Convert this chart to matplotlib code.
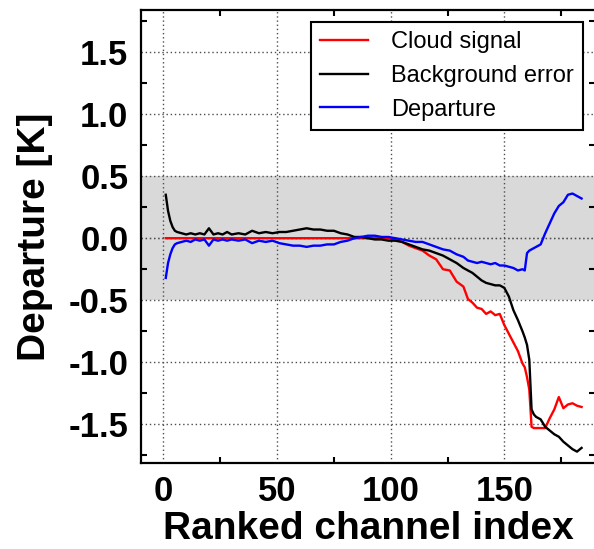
import numpy as np
import matplotlib
matplotlib.use("Agg")
import matplotlib.pyplot as plt
from matplotlib.ticker import MultipleLocator

plt.rcParams['font.family'] = ['Liberation Sans', 'DejaVu Sans']

channel = [1, 2, 3, 4, 5, 6, 8, 10, 12, 14, 16, 18, 20, 22, 24, 26, 28, 30,
           33, 36, 39, 42, 45, 48, 51, 54, 57, 60, 63, 66, 69, 72, 75, 78, 81,
           84, 87, 90, 93, 96, 99, 102, 105, 108, 111, 114, 117, 120, 123, 126,
           129, 132, 134, 136, 138, 140, 142, 144, 146, 148, 150, 152, 154, 156,
           158, 159, 160, 161, 162, 163, 164, 166, 168, 170, 172, 174, 176, 178,
           180, 182, 184]

cloud_signal = [0.0, 0.0, 0.0, 0.0, 0.0, 0.0, 0.0, 0.0, 0.0, 0.0, 0.0, 0.0,
                0.0, 0.0, 0.0, 0.0, 0.0, 0.0, 0.0, 0.0, 0.0, 0.0, 0.0, 0.0,
                0.0, 0.0, 0.0, 0.0, 0.0, 0.0, 0.0, 0.0, 0.0, 0.0, 0.0, 0.0,
                0.0, 0.0, 0.0, 0.0, 0.0, -0.01, -0.03, -0.06, -0.08, -0.10,
                -0.14, -0.17, -0.25, -0.26, -0.35, -0.39, -0.49, -0.52, -0.56,
                -0.57, -0.61, -0.59, -0.62, -0.61, -0.70, -0.77, -0.84, -0.91,
                -1.01, -1.04, -1.12, -1.22, -1.52, -1.53, -1.53, -1.53, -1.53,
                -1.45, -1.38, -1.28, -1.37, -1.34, -1.33, -1.35, -1.36]

background_error = [0.35, 0.22, 0.14, 0.09, 0.06, 0.05, 0.04, 0.03, 0.04, 0.03,
                    0.04, 0.03, 0.08, 0.03, 0.04, 0.03, 0.05, 0.03, 0.04, 0.03,
                    0.06, 0.04, 0.05, 0.04, 0.05, 0.05, 0.06, 0.07, 0.08, 0.07,
                    0.07, 0.06, 0.06, 0.04, 0.03, 0.01, 0.01, 0.0, -0.01, -0.01,
                    -0.02, -0.02, -0.03, -0.05, -0.07, -0.09, -0.10, -0.12, -0.14,
                    -0.17, -0.20, -0.24, -0.26, -0.28, -0.31, -0.34, -0.36, -0.37,
                    -0.38, -0.38, -0.40, -0.47, -0.58, -0.66, -0.75, -0.80, -0.86,
                    -0.98, -1.38, -1.42, -1.44, -1.46, -1.52, -1.55, -1.58, -1.60,
                    -1.64, -1.67, -1.70, -1.72, -1.69]

departure = [-0.32, -0.20, -0.13, -0.08, -0.05, -0.04, -0.03, -0.02, -0.03, -0.01,
             -0.02, -0.01, -0.06, -0.01, -0.02, -0.01, -0.02, -0.01, -0.02, -0.01,
             -0.04, -0.02, -0.03, -0.02, -0.04, -0.05, -0.06, -0.06, -0.07, -0.06,
             -0.06, -0.05, -0.05, -0.03, -0.02, 0.0, 0.01, 0.02, 0.02, 0.01,
             0.01, 0.0, -0.01, -0.02, -0.03, -0.03, -0.05, -0.07, -0.09, -0.10,
             -0.13, -0.15, -0.18, -0.19, -0.20, -0.19, -0.20, -0.21, -0.20, -0.22,
             -0.22, -0.23, -0.24, -0.26, -0.25, -0.26, -0.12, -0.10, -0.09, -0.08,
             -0.07, -0.05, 0.04, 0.12, 0.20, 0.26, 0.29, 0.35, 0.36, 0.34, 0.32]

fig = plt.figure(figsize=(5.94, 5.49), dpi=100)
ax = fig.add_axes([0.237, 0.157, 0.765, 0.825])

ax.grid(True, which='major', linestyle=(0, (1, 2)), color='0.3', linewidth=1.0, zorder=0)
ax.axhspan(-0.5, 0.5, color='#d9d9d9', zorder=1, linewidth=0)
ax.axhline(0, linestyle=(0, (1, 2)), color='0.45', linewidth=1.0, zorder=1.5)

ax.plot(channel, cloud_signal, color='red', lw=1.7, label='Cloud signal', zorder=3)
ax.plot(channel, background_error, color='black', lw=1.7, label='Background error', zorder=3)
ax.plot(channel, departure, color='blue', lw=1.7, label='Departure', zorder=3)

ax.set_xlim(-10, 190)
ax.set_ylim(-1.81, 1.84)
ax.xaxis.set_major_locator(MultipleLocator(50))
ax.xaxis.set_minor_locator(MultipleLocator(25))
ax.yaxis.set_major_locator(MultipleLocator(0.5))
ax.yaxis.set_minor_locator(MultipleLocator(0.25))
ax.yaxis.set_major_formatter(matplotlib.ticker.FormatStrFormatter('%.1f'))

ax.tick_params(which='major', length=0, labelsize=25, pad=9)
ax.tick_params(which='minor', direction='in', length=4, width=1.5,
               top=True, right=True)
for lab in ax.get_xticklabels() + ax.get_yticklabels():
    lab.set_fontweight('bold')
for sp in ax.spines.values():
    sp.set_linewidth(1.6)
    sp.set_zorder(5)

ax.set_xlabel('Ranked channel index', fontsize=28, fontweight='bold', labelpad=2)
ax.set_ylabel('Departure [K]', fontsize=28, fontweight='bold', labelpad=11)

leg = ax.legend(loc='upper right', fontsize=17, fancybox=False, framealpha=1,
                edgecolor='black', handletextpad=1.0, borderaxespad=0.5)
leg.get_frame().set_linewidth(1.5)
leg.set_zorder(6)

fig.savefig('out.png', dpi=100)
